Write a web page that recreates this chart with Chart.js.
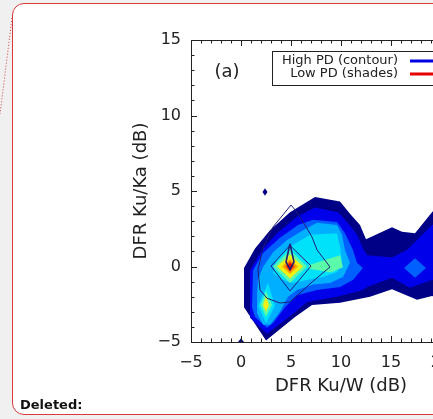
<!DOCTYPE html>
<html>
<head>
<meta charset="utf-8">
<script src="https://cdn.jsdelivr.net/npm/chart.js@4.4.1/dist/chart.umd.min.js"></script>
<style>
  html, body { margin: 0; padding: 0; width: 433px; height: 419px; overflow: hidden; background: #f0f0f0; }
  #page { position: absolute; left: 12px; top: 3px; width: 540px; height: 410px; background: #fff;
          border: 1px solid #d63a3c; border-radius: 12px; }
  #deleted { position: absolute; left: 20px; top: 397px; line-height: 15px;
             font: bold 13px "DejaVu Sans", sans-serif; color: #111; }
  #wrap { position: absolute; left: 0; top: 0; width: 520px; height: 419px; }
  svg { position: absolute; left: 0; top: 0; }
</style>
</head>
<body>
<div id="page"></div>
<svg width="433" height="419"><line x1="12" y1="18" x2="0" y2="114" stroke="#d63a3c" stroke-width="1" stroke-dasharray="1,2"/></svg>
<div id="wrap"><canvas id="chart" width="520" height="419"></canvas></div>
<div id="deleted">Deleted:</div>
<script>
// axis ranges and tick labels
const xRange = [-5, 25];
const yRange = [-5, 15];
const legendLabels = ["High PD (contour)", "Low PD (shades)"];
const legendColors = ["#0000e6", "#e60000"];

// Low PD shaded levels (outer to inner), vertices in DFR units
const level1 = [[2.5,-4.9],[0.3,-2.7],[0.3,-0.1],[1.4,1.2],[2.9,2.4],[4.9,3.6],[7.4,4.6],[9.9,4.3],[10.9,3.5],
  [11.9,2.75],[12.5,1.8],[15.1,2.6],[16.1,2.3],[17.4,2.2],[19.1,3.6],[21,5.0],[22,4.5],[22,-2.5],[19.1,-1.95],
  [17.6,-2.2],[15.1,-1.5],[12.9,-2.0],[9.9,-2.4],[7.1,-2.55],[5.4,-3.35],[2.5,-4.9]];
const level2 = [[2.6,-4.45],[0.9,-3.4],[0.9,-0.25],[2.1,1.1],[3.6,2.2],[5.6,3.3],[7.4,3.9],[9.7,3.6],[10.6,2.95],
  [11.6,2.1],[12.2,1.2],[12.6,0.75],[15.1,0.6],[16.6,1.1],[19.1,2.75],[22,4.0],[22,-1.0],[19.1,-0.9],[16.9,-1.4],
  [15.1,-0.75],[12.6,-1.35],[12.2,-1.55],[9.6,-2.0],[6.6,-2.35],[4.9,-3.3],[2.6,-4.45]];
const level3 = [[1.2,-0.25],[2.2,0.9],[3.9,1.9],[5.7,2.75],[7.2,3.1],[9.6,2.95],[10.4,2.2],[11.2,1.1],[11.6,0.25],
  [12.2,-0.1],[11.2,-0.9],[9.9,-1.35],[7.6,-1.55],[5.6,-1.9],[4.4,-2.7],[3.2,-3.75],[2.6,-4.05],[1.4,-3.35],
  [1.1,-2.7],[1.2,-0.25]];
const level3b = [[16.3,-0.1],[17.4,0.55],[18.5,-0.1],[17.4,-0.75],[16.3,-0.1]];
const level4 = [[1.6,-1.75],[1.7,-0.9],[2.2,-0.03],[3.2,0.95],[4.6,1.75],[6.2,2.4],[7.6,2.9],[9.6,2.75],[10.1,2.1],
  [10.4,1.1],[10.9,0.25],[10.2,-0.7],[8.9,-1.1],[7.2,-1.2],[5.6,-1.55],[4.7,-2.0],[3.9,-3.0],[2.9,-3.85],
  [2.2,-3.85],[1.6,-3.1],[1.6,-1.75]];
const level5 = [[3.6,0.43],[4.9,1.3],[6.9,2.1],[9.6,2.2],[9.9,1.3],[10.1,0.43],[9.6,-0.36],[8.2,-0.7],[6.6,-0.9],
  [5.2,-1.1],[4.2,-0.9],[3.2,-0.43],[3.6,0.43]];
const level5b = [[1.7,-2.6],[2.7,-1.1],[3.4,-2.6],[2.5,-3.75],[1.7,-2.6]];
const level6 = [[3.2,0],[4.9,1.1],[6.6,0],[4.9,-1.1],[3.2,0]];
const level6b = [[6.8,0.1],[9.9,0.75],[10.2,-0.05],[9.0,-0.4],[6.8,-0.15],[6.8,0.1]];
const level6c = [[1.95,-2.55],[2.5,-1.6],[3.1,-2.55],[2.5,-3.35],[1.95,-2.55]];
const level7 = [[3.6,0],[4.9,0.8],[6.2,0],[4.9,-0.8],[3.6,0]];
const level7b = [[2.2,-2.55],[2.5,-2.0],[2.8,-2.55],[2.5,-3.0],[2.2,-2.55]];
const level8 = [[4.1,0],[4.9,0.5],[5.7,0],[4.9,-0.5],[4.1,0]];
const level9 = [[4.4,0],[4.9,0.35],[5.4,0],[4.9,-0.35],[4.4,0]];
const level10 = [[4.6,0],[4.9,0.25],[5.2,0],[4.9,-0.25],[4.6,0]];
const spot1 = [[2.15,4.93],[2.4,5.18],[2.65,4.93],[2.4,4.68],[2.15,4.93]];
const spot2 = [[-0.3,-5],[0,-4.75],[0.3,-5],[-0.3,-5]];

// High PD contour lines
const contour1 = [[5.0,4.07],[5.5,3.68],[6.4,2.75],[7.1,1.95],[7.6,1.1],[8.9,-0.03],[7.1,-1.03],[4.9,-2.35],
  [3.9,-2.42],[2.6,-2.1],[1.9,-1.56],[1.7,-0.23],[2.2,1.22],[2.7,1.95],[3.2,2.62],[5.0,4.07]];
const contour2 = [[4.9,1.4],[3.0,0.03],[4.9,-1.62],[7.0,0.03],[4.9,1.4]];
const contour3 = [[4.9,1.5],[5.3,0.3],[4.9,-0.2],[4.5,0.3],[4.9,1.5]];

const shades = [
  [level1, "rgb(0,0,135)"], [spot1, "rgb(0,0,135)"], [spot2, "rgb(0,0,135)"],
  [level2, "rgb(0,0,235)"],
  [level3, "rgb(0,95,255)"], [level3b, "rgb(0,95,255)"],
  [level4, "rgb(0,175,255)"],
  [level5, "rgb(0,225,250)"], [level5b, "rgb(0,225,250)"],
  [level6, "rgb(90,250,170)"], [level6b, "rgb(90,250,170)"], [level6c, "rgb(90,250,170)"],
  [level7, "rgb(240,240,20)"], [level7b, "rgb(240,240,20)"],
  [level8, "rgb(255,165,0)"], [level9, "rgb(255,80,0)"], [level10, "rgb(235,0,0)"]
];
const lines = [[contour1, 1], [contour2, 1], [contour3, 1.6]];

const toXY = pts => pts.map(p => ({x: p[0], y: p[1]}));
const datasets = [];
shades.forEach(s => datasets.push({
  data: toXY(s[0]), fill: "shape", backgroundColor: s[1], borderColor: s[1],
  borderWidth: 0, pointRadius: 0, tension: 0
}));
lines.forEach(l => datasets.push({
  data: toXY(l[0]), fill: false, borderColor: "rgb(30,30,120)",
  borderWidth: l[1], pointRadius: 0, tension: 0
}));
datasets.forEach((d, i) => d.order = -i);

const FONT = "'DejaVu Sans', sans-serif";
const TXT = "#222";

// box, inward ticks, panel letter and legend
const decor = {
  id: "decor",
  afterDatasetsDraw(chart) {
    const {ctx, chartArea: a, scales: {x, y}} = chart;
    ctx.save();
    ctx.strokeStyle = "#222";
    ctx.lineWidth = 1;
    ctx.strokeRect(Math.round(a.left) + 0.5, Math.round(a.top) + 0.5,
      Math.round(a.right - a.left), Math.round(a.bottom - a.top));
    ctx.beginPath();
    for (let v = xRange[0]; v <= xRange[1]; v++) {
      const px = Math.round(x.getPixelForValue(v)) + 0.5;
      const len = v % 5 === 0 ? 6 : 3.5;
      ctx.moveTo(px, a.bottom); ctx.lineTo(px, a.bottom - len);
      ctx.moveTo(px, a.top); ctx.lineTo(px, a.top + len);
    }
    for (let v = yRange[0]; v <= yRange[1]; v++) {
      const py = Math.round(y.getPixelForValue(v)) + 0.5;
      const len = v % 5 === 0 ? 6 : 3.5;
      ctx.moveTo(a.left, py); ctx.lineTo(a.left + len, py);
      ctx.moveTo(a.right, py); ctx.lineTo(a.right - len, py);
    }
    ctx.stroke();

    ctx.fillStyle = TXT;
    ctx.font = "18px " + FONT;
    ctx.textAlign = "center";
    ctx.textBaseline = "middle";
    ctx.fillText("(a)", 227, 72);

    // legend box
    ctx.fillStyle = "#fff";
    ctx.fillRect(272.5, 51.5, 200, 34);
    ctx.strokeRect(272.5, 51.5, 200, 34);
    ctx.fillStyle = TXT;
    ctx.font = "13px " + FONT;
    ctx.textAlign = "right";
    const rows = [61, 74];
    legendLabels.forEach((t, i) => {
      ctx.fillText(t, 398, rows[i]);
      ctx.strokeStyle = legendColors[i];
      ctx.lineWidth = 3;
      ctx.beginPath();
      ctx.moveTo(410, rows[i]); ctx.lineTo(450, rows[i]);
      ctx.stroke();
    });
    ctx.restore();
  }
};

const tickFmt = v => v < 0 ? "\u2212" + Math.abs(v) : String(v);

new Chart(document.getElementById("chart"), {
  type: "line",
  data: { datasets: datasets },
  options: {
    responsive: false,
    animation: false,
    layout: { padding: { left: 131, top: 40, right: 29, bottom: 22 } },
    plugins: { legend: { display: false }, tooltip: { enabled: false } },
    scales: {
      x: {
        type: "linear", min: xRange[0], max: xRange[1],
        afterFit: s => { s.height = 55; },
        grid: { display: false, drawTicks: false },
        border: { display: false },
        ticks: { stepSize: 5, padding: 11, color: TXT, font: { family: FONT, size: 16 }, callback: tickFmt, maxRotation: 0 },
        title: { display: true, text: "DFR Ku/W (dB)", color: TXT, font: { family: FONT, size: 18 }, padding: 0 }
      },
      y: {
        type: "linear", min: yRange[0], max: yRange[1],
        afterFit: s => { s.width = 60; },
        grid: { display: false, drawTicks: false },
        border: { display: false },
        ticks: { stepSize: 5, padding: 10, color: TXT, font: { family: FONT, size: 16 }, callback: tickFmt },
        title: { display: true, text: "DFR Ku/Ka (dB)", color: TXT, font: { family: FONT, size: 18 }, padding: 0 }
      }
    }
  },
  plugins: [decor]
});
</script>
</body>
</html>
